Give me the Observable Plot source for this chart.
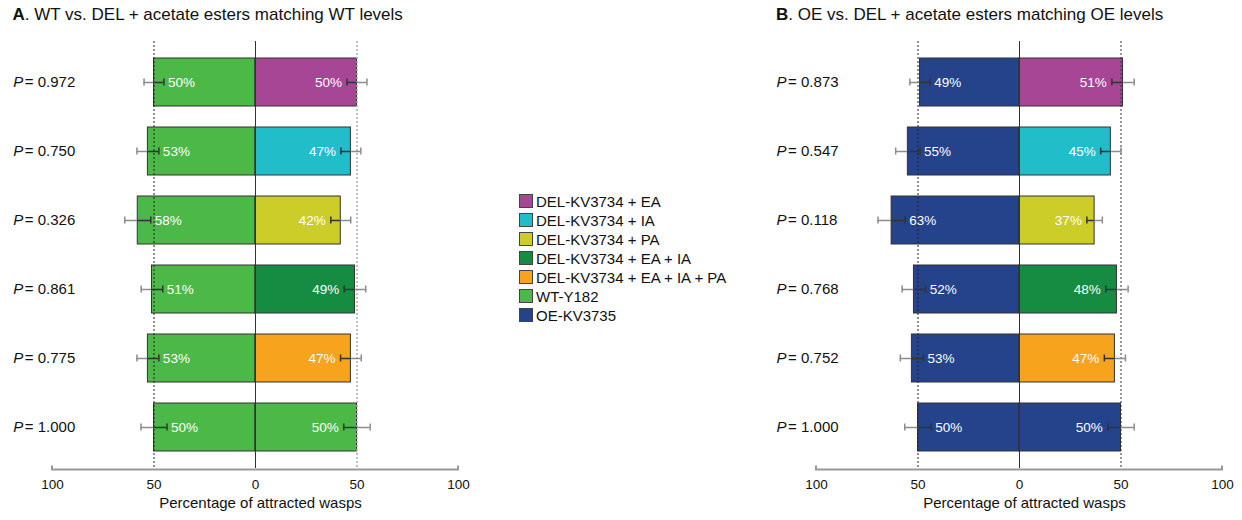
<!DOCTYPE html>
<html>
<head>
<meta charset="utf-8">
<script src="https://cdn.jsdelivr.net/npm/d3@7"></script>
<script src="https://cdn.jsdelivr.net/npm/@observablehq/plot@0.6"></script>
<style>
  html, body { margin: 0; padding: 0; background: #fff; overflow: hidden; }
  body { font-family: "Liberation Sans", Arial, sans-serif; color: #111; }
  #wrap { position: relative; width: 1242px; height: 520px; }
  .panel { position: absolute; top: 0; }
  .title { position: absolute; top: 5px; font-size: 17px; white-space: nowrap; }
  #legend { position: absolute; left: 519px; top: 191.5px; font-size: 15px; }
  .li { display: flex; align-items: center; height: 19px; white-space: nowrap; }
  .sw { width: 12px; height: 12px; border: 1px solid #444; margin-right: 3px; box-sizing: content-box; }
</style>
</head>
<body>
<div id="wrap"></div>
<script>
// ---------- data ----------
const legendNames = ["DEL-KV3734 + EA", "DEL-KV3734 + IA", "DEL-KV3734 + PA", "DEL-KV3734 + EA + IA", "DEL-KV3734 + EA + IA + PA", "WT-Y182", "OE-KV3735"];
const legendColors = ["#a84696", "#21bdc9", "#cdcd2a", "#158c42", "#f7a31e", "#4cb848", "#24438b"];

const titleLetters = ["A", "B"];
const titleTexts = [". WT vs. DEL + acetate esters matching WT levels", ". OE vs. DEL + acetate esters matching OE levels"];
const axisLabel = "Percentage of attracted wasps";
const xTicks = [-100, -50, 0, 50, 100];

const rows = [0, 1, 2, 3, 4, 5];

// Panel A
const pA = ["0.972", "0.750", "0.326", "0.861", "0.775", "1.000"];
const leftGroupA = "WT-Y182";
const rightGroupsA = ["DEL-KV3734 + EA", "DEL-KV3734 + IA", "DEL-KV3734 + PA", "DEL-KV3734 + EA + IA", "DEL-KV3734 + EA + IA + PA", "WT-Y182"];
const leftA = [50, 53, 58, 51, 53, 50];
const rightA = [50, 47, 42, 49, 47, 50];
const leftErrA = [4.9, 5.4, 6.4, 5.3, 5.4, 6.4];
const rightErrA = [4.9, 4.9, 4.9, 5.3, 5.1, 6.5];

// Panel B
const pB = ["0.873", "0.547", "0.118", "0.768", "0.752", "1.000"];
const leftGroupB = "OE-KV3735";
const rightGroupsB = ["DEL-KV3734 + EA", "DEL-KV3734 + IA", "DEL-KV3734 + PA", "DEL-KV3734 + EA + IA", "DEL-KV3734 + EA + IA + PA", "OE-KV3735"];
const leftB = [49, 55, 63, 52, 53, 50];
const rightB = [51, 45, 37, 48, 47, 50];
const leftErrB = [5.0, 6.0, 6.7, 5.8, 5.7, 6.5];
const rightErrB = [5.5, 5.0, 3.8, 5.5, 5.2, 6.5];

// ---------- build ----------
function buildRows(leftGroup, rightGroups, lv, rv, le, re) {
  const out = [];
  rows.forEach(i => {
    out.push({row: i, side: -1, group: leftGroup, v: lv[i], end: -lv[i], inner: -lv[i] + le[i], outer: -lv[i] - le[i]});
    out.push({row: i, side: 1, group: rightGroups[i], v: rv[i], end: rv[i], inner: rv[i] - re[i], outer: rv[i] + re[i]});
  });
  return out;
}

const FONT = "'Liberation Sans', Arial, sans-serif";

function axisLine(...args) {
  const scales = args.find(a => a && typeof a.x === "function");
  const dims = args.find(a => a && a.marginBottom !== undefined && a.height !== undefined);
  const x0 = scales.x(xTicks[0]), x1 = scales.x(xTicks[xTicks.length - 1]);
  const y = dims.height - dims.marginBottom + 1.5;
  return d3.create("svg:path")
    .attr("d", `M${x0},${y - 4}V${y}H${x1}V${y - 4}`)
    .attr("fill", "none").attr("stroke", "#999").attr("stroke-width", 2)
    .node();
}

function panel(data, pvals, opts) {
  const left = data.filter(d => d.side < 0);
  const right = data.filter(d => d.side > 0);
  const pRows = rows.map(i => ({row: i, p: pvals[i]}));
  return Plot.plot({
    width: opts.width, height: 520,
    marginTop: 41, marginBottom: 52, marginLeft: 52, marginRight: opts.marginRight,
    style: {fontFamily: FONT, fontSize: "13.5px", background: "transparent", color: "#111"},
    x: {domain: [xTicks[0], xTicks[xTicks.length - 1]], ticks: xTicks, tickFormat: d => Math.abs(d), tickSize: 0, tickPadding: 11, label: null},
    y: {domain: rows, axis: null, paddingInner: 0.306, paddingOuter: 0.238},
    color: {domain: legendNames, range: legendColors},
    marks: [
      Plot.barX(data, {y: "row", x1: d => Math.min(0, d.end), x2: d => Math.max(0, d.end), fill: "group", stroke: "#333", strokeWidth: 1}),
      Plot.ruleX([-50], {stroke: "#222", strokeWidth: 1, strokeDasharray: "2,2"}),
      Plot.ruleX([50], {stroke: opts.rightDotColor, strokeWidth: opts.rightDotWidth, strokeDasharray: "2,2"}),
      Plot.ruleX([0], {stroke: "#333", strokeWidth: 1}),
      Plot.ruleY(data, {y: "row", x1: "end", x2: "outer", stroke: "#8c8c8c", strokeWidth: 1.5}),
      Plot.ruleY(data, {y: "row", x1: "end", x2: "inner", stroke: "#333", strokeWidth: 1.5}),
      Plot.tickX(data, {y: "row", x: "outer", stroke: "#8c8c8c", strokeWidth: 1.5, insetTop: 20.5, insetBottom: 20.5}),
      Plot.tickX(data, {y: "row", x: "inner", stroke: "#333", strokeWidth: 1.5, insetTop: 20.5, insetBottom: 20.5}),
      Plot.text(left, {y: "row", x: "inner", text: d => d.v + "%", dx: 4, textAnchor: "start", fill: "white", fontSize: 13.5}),
      Plot.text(right, {y: "row", x: "inner", text: d => d.v + "%", dx: -5, textAnchor: "end", fill: "white", fontSize: 13.5}),
      Plot.text(pRows, {y: "row", frameAnchor: "left", text: () => "P", dx: opts.pDx, textAnchor: "start", fontStyle: "italic", fontSize: 15, fill: "#111"}),
      Plot.text(pRows, {y: "row", frameAnchor: "left", text: d => "= " + d.p, dx: opts.pDx + 11.6, textAnchor: "start", fontSize: 15, fill: "#111"}),
      Plot.text([axisLabel], {frameAnchor: "bottom", dy: 39.5, dx: 5, text: d => d, fontSize: 15, fill: "#111"}),
      axisLine
    ]
  });
}

const wrap = document.getElementById("wrap");

const dataA = buildRows(leftGroupA, rightGroupsA, leftA, rightA, leftErrA, rightErrA);
const dataB = buildRows(leftGroupB, rightGroupsB, leftB, rightB, leftErrB, rightErrB);

const panels = [
  {left: 0, el: panel(dataA, pA, {width: 480, marginRight: 22, pDx: -39.3, rightDotColor: "#aaa", rightDotWidth: 1.5}), titleX: 12.5},
  {left: 764, el: panel(dataB, pB, {width: 478, marginRight: 20, pDx: -40, rightDotColor: "#333", rightDotWidth: 1}), titleX: 776}
];

panels.forEach((p, k) => {
  const holder = document.createElement("div");
  holder.className = "panel";
  holder.style.left = p.left + "px";
  holder.appendChild(p.el);
  wrap.appendChild(holder);
  const t = document.createElement("div");
  t.className = "title";
  t.style.left = p.titleX + "px";
  const b = document.createElement("b");
  b.textContent = titleLetters[k];
  t.appendChild(b);
  t.appendChild(document.createTextNode(titleTexts[k]));
  wrap.appendChild(t);
});

// legend
const legend = document.createElement("div");
legend.id = "legend";
legendNames.forEach((name, i) => {
  const li = document.createElement("div");
  li.className = "li";
  const sw = document.createElement("span");
  sw.className = "sw";
  sw.style.background = legendColors[i];
  li.appendChild(sw);
  li.appendChild(document.createTextNode(name));
  legend.appendChild(li);
});
wrap.appendChild(legend);
</script>
</body>
</html>
